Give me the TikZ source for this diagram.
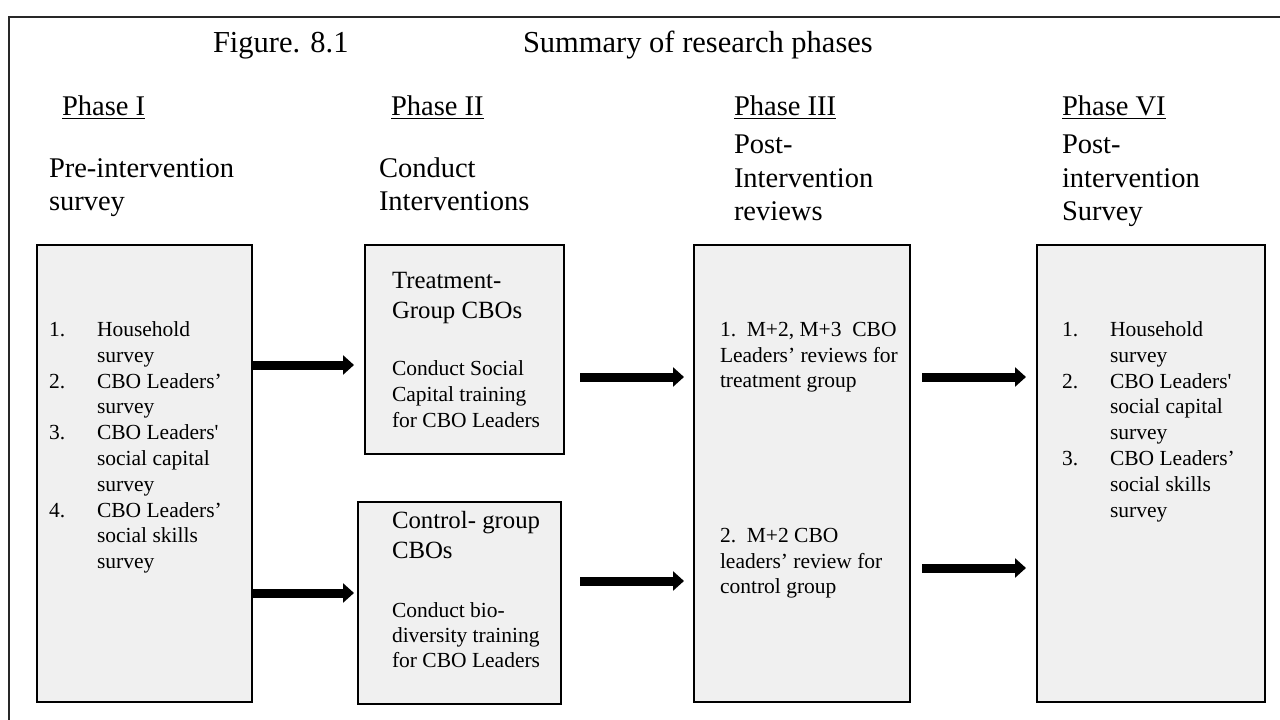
\documentclass[tikz,border=0pt]{standalone}
\usepackage{fontspec}
\setmainfont{Liberation Serif}
\usetikzlibrary{arrows.meta}
\definecolor{boxfill}{RGB}{240,240,240}
\definecolor{framegray}{RGB}{40,40,40}
\newcommand{\tl}[4]{\node[#1] (#2) at #3 {#4};}
\begin{document}
\begin{tikzpicture}[x=1pt,y=-1pt,
  every node/.style={inner sep=0pt,outer sep=0pt,anchor=base west},
  ttl/.style={font=\fontsize{30.5}{36}\selectfont},
  head/.style={font=\fontsize{28.5}{33}\selectfont},
  sub/.style={font=\fontsize{24.8}{30}\selectfont},
  body/.style={font=\fontsize{21.5}{26}\selectfont},
  card/.style={draw=black,line width=1.8pt,fill=boxfill},
  arr/.style={line width=9pt,-{Triangle[width=19pt,length=11pt]}},
  uline/.style={line width=1.4pt}]
\useasboundingbox (0,0) rectangle (1280,720);
\fill[white] (0,0) rectangle (1280,720);
% open outer frame
\draw[framegray,line width=2.5pt] (1285,17) -- (9,17) -- (9,725);

% title
\tl{ttl}{fig}{(213,52)}{Figure. 8.1}
\tl{ttl}{sum}{(523,52)}{Summary of research phases}

% phase headings
\tl{head}{p1}{(62,115)}{Phase I}
\tl{head}{p2}{(391,115)}{Phase II}
\tl{head}{p3}{(734,115)}{Phase III}
\tl{head}{p4}{(1062,115)}{Phase VI}
\foreach \p in {p1,p2,p3,p4}
  \draw[uline] ([yshift=-3.5pt]\p.base west) -- ([yshift=-3.5pt]\p.base east);

\tl{head}{s1a}{(49,177)}{Pre-intervention}
\tl{head}{s1b}{(49,210)}{survey}
\tl{head}{s2a}{(379,177)}{Conduct}
\tl{head}{s2b}{(379,210)}{Interventions}
\tl{head}{s3a}{(734,153)}{Post-}
\tl{head}{s3b}{(734,187)}{Intervention}
\tl{head}{s3c}{(734,220)}{reviews}
\tl{head}{s4a}{(1062,153)}{Post-}
\tl{head}{s4b}{(1062,187)}{intervention}
\tl{head}{s4c}{(1062,220)}{Survey}

% boxes
\node[card,anchor=north west,minimum width=215pt,minimum height=457pt] (b1) at (37,245) {};
\node[card,anchor=north west,minimum width=199pt,minimum height=209pt] (b2t) at (365,245) {};
\node[card,anchor=north west,minimum width=203pt,minimum height=202pt] (b2c) at (358,502) {};
\node[card,anchor=north west,minimum width=216pt,minimum height=457pt] (b3) at (694,245) {};
\node[card,anchor=north west,minimum width=228pt,minimum height=457pt] (b4) at (1037,245) {};

% phase I list
\tl{body}{n11}{(49,336)}{1.}
\tl{body}{t11a}{(97,336)}{Household}
\tl{body}{t11b}{(97,362)}{survey}
\tl{body}{n12}{(49,388)}{2.}
\tl{body}{t12a}{(97,388)}{CBO Leaders’}
\tl{body}{t12b}{(97,413)}{survey}
\tl{body}{n13}{(49,439)}{3.}
\tl{body}{t13a}{(97,439)}{CBO Leaders\textquotesingle}
\tl{body}{t13b}{(97,465)}{social capital}
\tl{body}{t13c}{(97,491)}{survey}
\tl{body}{n14}{(49,517)}{4.}
\tl{body}{t14a}{(97,517)}{CBO Leaders’}
\tl{body}{t14b}{(97,542)}{social skills}
\tl{body}{t14c}{(97,568)}{survey}

% phase II boxes
\tl{sub}{g1a}{(392,288)}{Treatment-}
\tl{sub}{g1b}{(392,318)}{Group CBOs}
\tl{body}{g1c}{(392,375)}{Conduct Social}
\tl{body}{g1d}{(392,401)}{Capital training}
\tl{body}{g1e}{(392,427)}{for CBO Leaders}
\tl{sub}{g2a}{(392,528)}{Control- group}
\tl{sub}{g2b}{(392,558)}{CBOs}
\tl{body}{g2c}{(392,617)}{Conduct bio-}
\tl{body}{g2d}{(392,642)}{diversity training}
\tl{body}{g2e}{(392,667)}{for CBO Leaders}

% phase III box
\tl{body}{r1a}{(720,336)}{1.\ \ M+2, M+3\ \ CBO}
\tl{body}{r1b}{(720,362)}{Leaders’ reviews for}
\tl{body}{r1c}{(720,387)}{treatment group}
\tl{body}{r2a}{(720,542)}{2.\ \ M+2 CBO}
\tl{body}{r2b}{(720,568)}{leaders’ review for}
\tl{body}{r2c}{(720,593)}{control group}

% phase VI list
\tl{body}{n41}{(1062,336)}{1.}
\tl{body}{t41a}{(1110,336)}{Household}
\tl{body}{t41b}{(1110,362)}{survey}
\tl{body}{n42}{(1062,388)}{2.}
\tl{body}{t42a}{(1110,388)}{CBO Leaders\textquotesingle}
\tl{body}{t42b}{(1110,413)}{social capital}
\tl{body}{t42c}{(1110,439)}{survey}
\tl{body}{n43}{(1062,465)}{3.}
\tl{body}{t43a}{(1110,465)}{CBO Leaders’}
\tl{body}{t43b}{(1110,491)}{social skills}
\tl{body}{t43c}{(1110,517)}{survey}

% arrows between phases
\draw[arr] (b1.east |- 0,365) -- ([xshift=-11pt]b2t.west |- 0,365);
\draw[arr] (b1.east |- 0,593) -- ([xshift=-4pt]b2c.west |- 0,593);
\draw[arr] ([xshift=16pt]b2t.east |- 0,377) -- ([xshift=-10pt]b3.west |- 0,377);
\draw[arr] ([xshift=19pt]b2c.east |- 0,581) -- ([xshift=-10pt]b3.west |- 0,581);
\draw[arr] ([xshift=12pt]b3.east |- 0,377) -- ([xshift=-11pt]b4.west |- 0,377);
\draw[arr] ([xshift=12pt]b3.east |- 0,568) -- ([xshift=-11pt]b4.west |- 0,568);
\end{tikzpicture}
\end{document}
